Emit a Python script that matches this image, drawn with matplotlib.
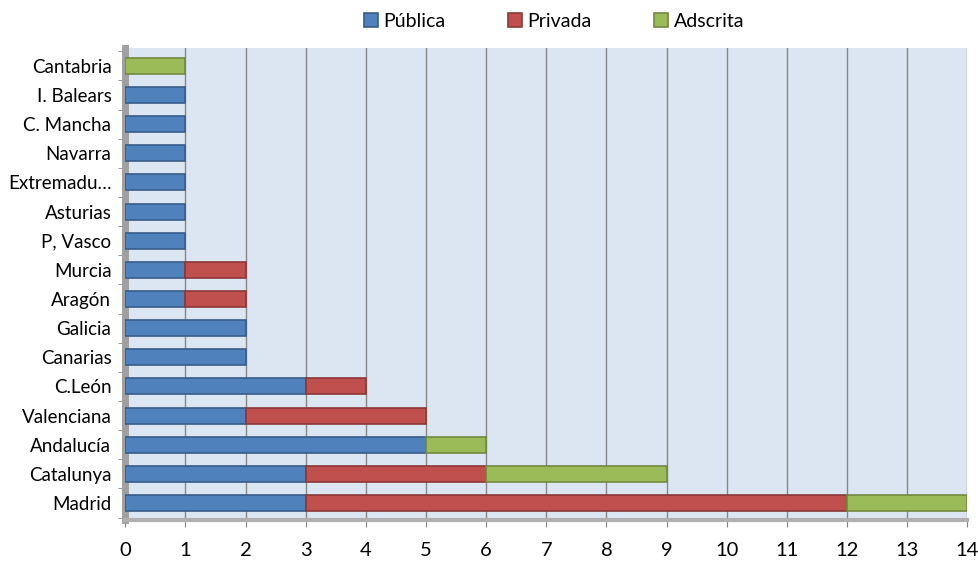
import matplotlib.pyplot as plt
import numpy as np

# Datos (de abajo hacia arriba)
regiones = ['Madrid', 'Catalunya', 'Andalucía', 'Valenciana', 'C.León', 'Canarias',
            'Galicia', 'Aragón', 'Murcia', 'P, Vasco', 'Asturias', 'Extremadu…',
            'Navarra', 'C. Mancha', 'I. Balears', 'Cantabria']
publica = [3, 3, 5, 2, 3, 2, 2, 1, 1, 1, 1, 1, 1, 1, 1, 0]
privada = [9, 3, 0, 3, 1, 0, 0, 1, 1, 0, 0, 0, 0, 0, 0, 0]
adscrita = [2, 3, 1, 0, 0, 0, 0, 0, 0, 0, 0, 0, 0, 0, 0, 1]

plt.rcParams['font.family'] = ['Lato', 'DejaVu Sans']

fig = plt.figure(figsize=(9.79, 5.62), dpi=100)
ax = fig.add_axes([0.128, 0.075, 0.86, 0.84])

y = np.arange(len(regiones))
pub = np.array(publica)
pri = np.array(privada)
ads = np.array(adscrita)

series = [
    ('Pública', pub, np.zeros_like(pub), '#4f81bd', '#385d8a'),
    ('Privada', pri, pub, '#c0504d', '#8c3836'),
    ('Adscrita', ads, pub + pri, '#9bbb59', '#71893f'),
]
h = 0.55
for nombre, vals, base, col, borde in series:
    m = vals > 0  # no dibujar barras de ancho cero
    ax.barh(y[m], vals[m], left=base[m], height=h, color=col, edgecolor=borde,
            linewidth=1.2, label=nombre, zorder=3)

ax.set_facecolor('#dce6f2')
ax.set_xlim(0, 14)
ax.set_ylim(-0.58, 15.62)
ax.set_xticks(range(0, 15))
ax.set_yticks(y)
ax.set_yticklabels(regiones)
ax.set_yticks(np.arange(-0.5, 16, 1), minor=True)
ax.tick_params(axis='y', which='major', length=0, labelsize=13.5, pad=10)
ax.tick_params(axis='y', which='minor', length=5, color='#868686')
ax.tick_params(axis='x', length=5, color='#868686', labelsize=14.5, pad=11)
ax.grid(axis='x', color='#868686', linewidth=1, zorder=0)

for s in ['top', 'right']:
    ax.spines[s].set_visible(False)
ax.spines['left'].set_color('#a0a0a0')
ax.spines['left'].set_linewidth(5)
ax.spines['bottom'].set_color('#b0b0b0')
ax.spines['bottom'].set_linewidth(3)

fig.legend(loc='upper center', bbox_to_anchor=(0.566, 1.008), ncol=3, frameon=False,
           fontsize=14, handlelength=0.7, handleheight=0.7, columnspacing=3.2,
           handletextpad=0.3)

fig.savefig('out.png', dpi=100)
